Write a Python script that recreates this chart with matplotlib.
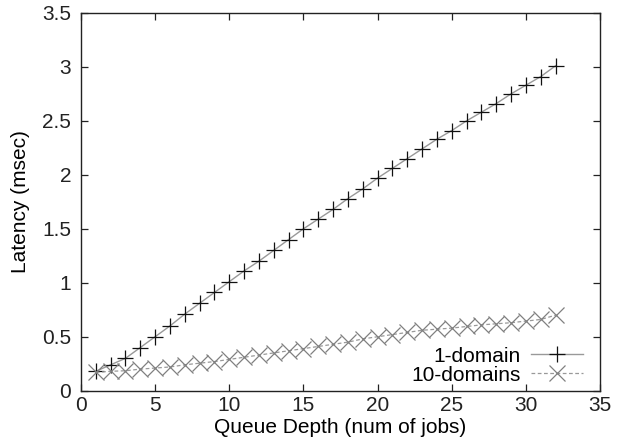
import numpy as np
import matplotlib
matplotlib.use('Agg')
import matplotlib.pyplot as plt

plt.rcParams['font.family'] = ['Liberation Sans', 'DejaVu Sans']

queue_depth = list(range(1, 33))
one_domain = [0.18, 0.24, 0.30, 0.40, 0.50, 0.60, 0.71, 0.81, 0.91, 1.01,
              1.11, 1.20, 1.30, 1.40, 1.50, 1.59, 1.68, 1.78, 1.87, 1.97,
              2.06, 2.15, 2.24, 2.33, 2.41, 2.50, 2.58, 2.66, 2.75, 2.83,
              2.91, 3.01]
ten_domains = [0.17, 0.18, 0.185, 0.20, 0.21, 0.22, 0.24, 0.255, 0.27, 0.29,
               0.31, 0.33, 0.35, 0.37, 0.39, 0.41, 0.43, 0.45, 0.48, 0.50,
               0.52, 0.54, 0.56, 0.57, 0.58, 0.595, 0.61, 0.62, 0.63, 0.645,
               0.66, 0.70]

fs = 15

fig = plt.figure(figsize=(6.18, 4.44), dpi=100)
ax = fig.add_axes([0.131, 0.12, 0.84, 0.851])

ax.plot(queue_depth, one_domain, '-', color='#999999', lw=1.0,
        marker='+', ms=12, mec='#111111', mew=0.9, label='1-domain')
ax.plot(queue_depth, ten_domains, '--', color='#999999', lw=0.9,
        dashes=(3, 2), marker='x', ms=11.5, mec='#808080', mew=0.9,
        label='10-domains')

ax.set_xlim(0, 35)
ax.set_ylim(0, 3.5)
ax.set_xticks(np.arange(0, 36, 5))
ax.set_yticks(np.arange(0, 3.51, 0.5))
ax.set_yticklabels(['0', '0.5', '1', '1.5', '2', '2.5', '3', '3.5'])
ax.tick_params(direction='in', top=True, right=True, length=5, width=0.9,
               labelsize=fs, colors='#222222')
ax.tick_params(axis='y', pad=7)
ax.tick_params(axis='x', pad=4)
for s in ax.spines.values():
    s.set_linewidth(1.0)
    s.set_color('#222222')

ax.set_xlabel('Queue Depth (num of jobs)', fontsize=fs, labelpad=2)
ax.set_ylabel('Latency (msec)', fontsize=fs, labelpad=9)

ax.legend(loc='lower right', bbox_to_anchor=(0.975, 0.005), frameon=False,
          markerfirst=False, fontsize=fs, handlelength=2.5,
          handletextpad=0.5, labelspacing=0.0, borderpad=0.2,
          borderaxespad=0)

plt.savefig('out.png', dpi=100)
